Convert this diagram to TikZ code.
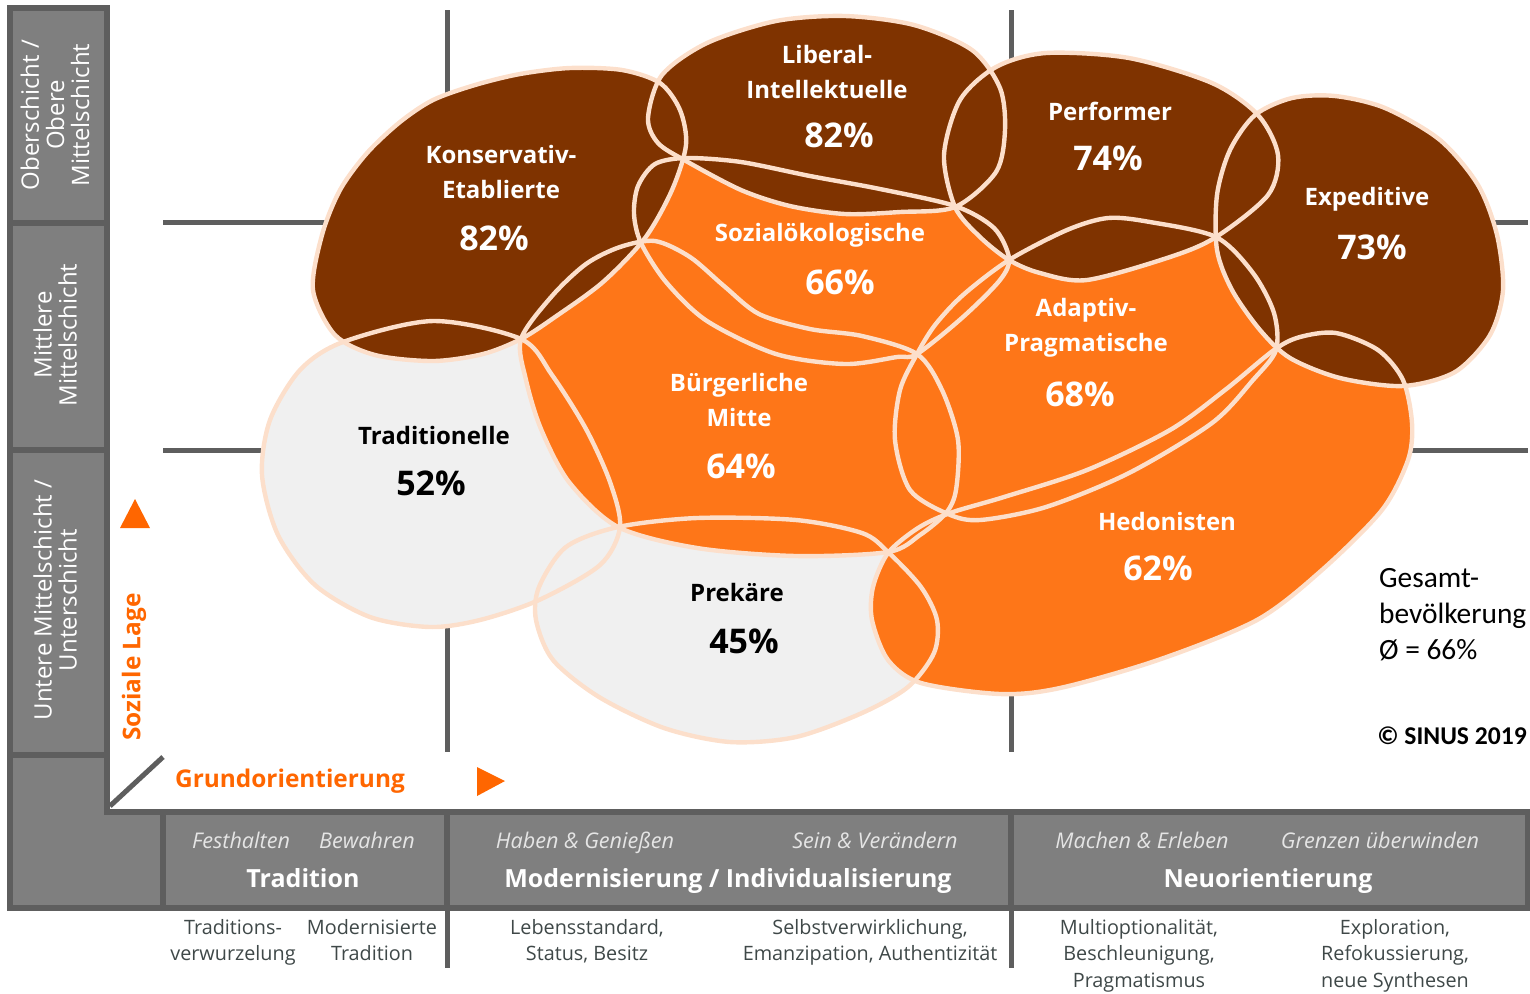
\documentclass[tikz,border=0pt]{standalone}
\usepackage{fontspec}
\setmainfont{Open Sans}
\newfontfamily\calfont{Carlito}
\definecolor{brn}{HTML}{7F3300}
\definecolor{org}{HTML}{FE7618}
\definecolor{axorg}{HTML}{FF6600}
\definecolor{rimc}{HTML}{FCDFCB}
\definecolor{lgrey}{HTML}{F0F0F0}
\definecolor{bargrey}{HTML}{7F7F7F}
\definecolor{bardark}{HTML}{5E5E5E}
\definecolor{txtgrey}{HTML}{3F4848}
\newcommand\pKons{plot[smooth cycle] coordinates {(313,290) (322,235) (340,190) (367,153) (400,122) (433,100) (475,85) (520,74) (570,68) (622,70) (660,83) (680,110) (686,145) (672,190) (645,238) (603,282) (555,317) (521,339) (483,354) (433,361) (375,355) (335,335)}}
\newcommand\pLib{plot[smooth cycle] coordinates {(648,118) (662,75) (707,43) (776,21) (845,16) (914,25) (972,50) (1000,88) (1005,130) (996,172) (955,207) (900,212) (845,214) (790,206) (741,190) (686,161) (658,143)}}
\newcommand\pPerf{plot[smooth cycle] coordinates {(996,67) (1046,53) (1129,58) (1212,83) (1258,115) (1278,155) (1268,195) (1216,237) (1170,257) (1087,280) (1040,273) (1009,260) (980,237) (955,207) (944,155) (960,100)}}
\newcommand\pExp{plot[smooth cycle] coordinates {(1230,150) (1217,195) (1217,250) (1232,290) (1260,330) (1290,358) (1340,378) (1403,386) (1455,372) (1490,335) (1503,290) (1497,235) (1478,185) (1440,140) (1385,108) (1335,96) (1292,98) (1255,115)}}
\newcommand\pSoz{plot[smooth cycle] coordinates {(686,158) (655,164) (638,186) (634,214) (641,243) (666,282) (707,321) (776,354) (845,364) (897,357) (917,354) (963,317) (1000,280) (1009,258) (994,228) (955,206) (880,189) (810,176) (741,162)}}
\newcommand\pBM{plot[smooth cycle] coordinates {(521,339) (552,296) (586,264) (620,247) (655,241) (690,257) (724,286) (759,314) (810,329) (862,336) (917,354) (942,390) (958,440) (956,490) (946,513) (920,535) (888,552) (796,556) (697,548) (618,527) (569,482) (541,429) (526,380)}}
\newcommand\pAdap{plot[smooth cycle] coordinates {(1009,260) (1067,230) (1108,218) (1150,222) (1216,237) (1253,273) (1274,313) (1276,350) (1253,380) (1212,423) (1129,473) (1046,507) (980,520) (948,514) (910,490) (895,440) (900,390) (917,354) (935,325) (963,295)}}
\newcommand\pHed{plot[smooth cycle] coordinates {(950,513) (1004,497) (1087,470) (1170,430) (1225,390) (1274,350) (1300,337) (1336,333) (1378,350) (1403,380) (1412,423) (1408,460) (1382,510) (1322,570) (1257,620) (1158,660) (1060,688) (1000,694) (921,683) (888,660) (872,620) (873,587) (888,553) (918,528)}}
\newcommand\pTrad{plot[smooth cycle] coordinates {(521,339) (552,375) (586,429) (610,482) (620,527) (600,565) (539,600) (480,620) (430,627) (370,617) (315,585) (278,535) (262,475) (270,420) (300,370) (343,342) (433,321)}}
\newcommand\pPrek{plot[smooth cycle] coordinates {(618,527) (697,518) (796,520) (862,533) (888,552) (921,587) (937,620) (934,653) (908,687) (862,713) (796,737) (730,742) (664,728) (599,697) (553,660) (536,620) (539,587) (566,547)}}
\begin{document}
\begin{tikzpicture}[x=0.5pt,y=-0.5pt,
  rim/.style={draw=rimc,line width=2.2pt},
  gline/.style={draw=bardark,line width=2.5pt},
  lbl/.style={align=center,text=white,font=\bfseries\fontsize{12}{17.5}\selectfont},
  pct/.style={text=white,font=\bfseries\fontsize{17}{20}\selectfont},
  side/.style={rotate=90,align=center,text=white,font=\fontsize{12}{12.5}\selectfont},
  ital/.style={anchor=base,text=white!90!black,font=\itshape\fontsize{10.8}{13}\selectfont},
  head/.style={anchor=base,text=white,font=\bfseries\fontsize{12.5}{15}\selectfont},
  foot/.style={anchor=north,inner sep=0pt,align=center,text=txtgrey,font=\fontsize{9.9}{13.25}\selectfont},
  axis/.style={text=axorg,font=\bfseries\fontsize{12.2}{14}\selectfont}]
\useasboundingbox (0,0) rectangle (1530,993);
\foreach \y in {222,450} {
\draw[gline] (163,\y) -- (1528,\y);
}
\foreach \x in {447,1011} {
\draw[gline] (\x,10) -- (\x,752);
\draw[gline] (\x,908) -- (\x,968);
}
\fill[lgrey] \pTrad;
\fill[lgrey] \pPrek;
\fill[org] \pBM;
\fill[org] \pSoz;
\fill[org] \pAdap;
\fill[org] \pHed;
\fill[brn] \pKons;
\fill[brn] \pLib;
\fill[brn] \pPerf;
\fill[brn] \pExp;
\draw[rim] \pTrad;
\draw[rim] \pPrek;
\draw[rim] \pBM;
\draw[rim] \pSoz;
\draw[rim] \pAdap;
\draw[rim] \pHed;
\draw[rim] \pKons;
\draw[rim] \pLib;
\draw[rim] \pPerf;
\draw[rim] \pExp;
\node[lbl] (kons) at (501,172) {Konservativ-\\Etablierte};
\node[pct] (konsp) at (494,238) {82\%};
\node[lbl] (lib) at (827,72) {Liberal-\\Intellektuelle};
\node[pct] (libp) at (839,135) {82\%};
\node[lbl] (perf) at (1110,111) {Performer};
\node[pct] (perfp) at (1108,158) {74\%};
\node[lbl] (exp) at (1367,199) {Expeditive};
\node[pct] (expp) at (1372,247) {73\%};
\node[lbl] (soz) at (820,235) {Sozialökologische};
\node[pct] (sozp) at (840,282) {66\%};
\node[lbl] (adap) at (1086,328) {Adaptiv-\\Pragmatische};
\node[pct] (adapp) at (1080,394) {68\%};
\node[lbl] (bm) at (739,400) {Bürgerliche\\Mitte};
\node[pct] (bmp) at (741,466) {64\%};
\node[lbl,text=black] (trad) at (434,435) {Traditionelle};
\node[pct,text=black] (tradp) at (431,483) {52\%};
\node[lbl,text=black] (prek) at (737,592) {Prekäre};
\node[pct,text=black] (prekp) at (744,641) {45\%};
\node[lbl] (hed) at (1167,521) {Hedonisten};
\node[pct] (hedp) at (1158,568) {62\%};
\node[anchor=west,align=left,font=\calfont\fontsize{14.7}{18}\selectfont] (gesamt) at (1372,615) {Gesamt-\\bevölkerung\\ Ø = 66\%};
\node[font=\calfont\bfseries\fontsize{12.8}{16}\selectfont] (sinus) at (1452,736) {© SINUS 2019};
\fill[bargrey,draw=bardark,line width=3pt] (10,8) -- (107,8) -- (107,812) -- (1528,812) -- (1528,908) -- (10,908) -- cycle;
\foreach \y in {223,450,755} {
\draw[gline,line width=3pt] (10,\y) -- (107,\y);
}
\foreach \x in {163,447,1011} {
\draw[gline,line width=3pt] (\x,812) -- (\x,908);
}
\draw[gline] (110,806) -- (163,757);
\node[side] (oben) at (55,115) {Oberschicht /\\Obere\\Mittelschicht};
\node[side] (mitte) at (55,335) {Mittlere\\Mittelschicht};
\node[side] (unten) at (55,600) {Untere Mittelschicht /\\Unterschicht};
\fill[axorg] (120,528) -- (150,528) -- (135,499) -- cycle;
\fill[axorg] (477,767) -- (477,796) -- (505,781) -- cycle;
\node[axis,rotate=90] (lage) at (134,667) {Soziale Lage};
\node[axis] (grund) at (290,781) {Grundorientierung};
\node[ital] (fest) at (241,848) {Festhalten};
\node[ital] (bew) at (367,848) {Bewahren};
\node[ital] (hab) at (585,848) {Haben \& Genießen};
\node[ital] (sein) at (875,848) {Sein \& Verändern};
\node[ital] (mach) at (1142,848) {Machen \& Erleben};
\node[ital] (grenz) at (1380,848) {Grenzen überwinden};
\node[head] (trd) at (303,887) {Tradition};
\node[head] (mod) at (728,887) {Modernisierung / Individualisierung};
\node[head] (neu) at (1268,887) {Neuorientierung};
\node[foot] (tv) at (233,919) {Traditions-\\verwurzelung};
\node[foot] (mt) at (372,919) {Modernisierte\\Tradition};
\node[foot] (ls) at (587,919) {Lebensstandard,\\Status, Besitz};
\node[foot] (sv) at (870,919) {Selbstverwirklichung,\\Emanzipation, Authentizität};
\node[foot] (mo) at (1139,919) {Multioptionalität,\\Beschleunigung,\\Pragmatismus};
\node[foot] (ex) at (1395,919) {Exploration,\\Refokussierung,\\neue Synthesen};
\end{tikzpicture}
\end{document}
